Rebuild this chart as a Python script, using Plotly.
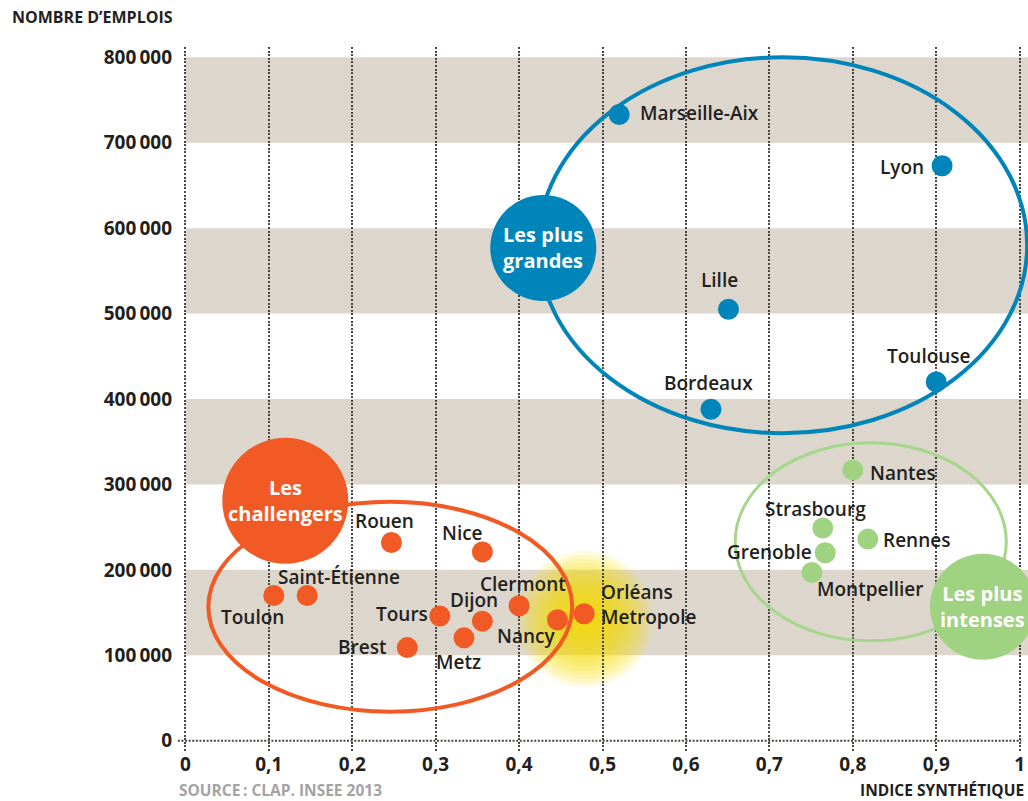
import plotly.graph_objects as go

# ---------------- data ----------------
big_names = ["Marseille-Aix", "Lyon", "Lille", "Bordeaux", "Toulouse"]
big_x = [0.520, 0.907, 0.651, 0.630, 0.900]
big_y = [733000, 673000, 505000, 388000, 420000]

intense_names = ["Nantes", "Strasbourg", "Grenoble", "Rennes", "Montpellier"]
intense_x = [0.800, 0.764, 0.767, 0.818, 0.751]
intense_y = [317000, 249000, 220000, 236000, 197000]

chall_names = ["Rouen", "Nice", "Toulon", "Saint-Étienne", "Tours", "Dijon",
               "Metz", "Clermont", "Nancy", "Brest", "Orléans<br>Metropole"]
chall_x = [0.247, 0.356, 0.106, 0.146, 0.305, 0.356, 0.334, 0.400, 0.446, 0.266, 0.478]
chall_y = [232000, 221000, 170000, 170000, 146000, 140000, 120500, 158000, 141600, 109000, 148600]

x_ticks = [0, 0.1, 0.2, 0.3, 0.4, 0.5, 0.6, 0.7, 0.8, 0.9, 1]
x_ticktext = ["0", "0,1", "0,2", "0,3", "0,4", "0,5", "0,6", "0,7", "0,8", "0,9", "1"]
y_ticks = [0, 100000, 200000, 300000, 400000, 500000, 600000, 700000, 800000]
y_ticktext = ["0", "100\u2009000", "200\u2009000", "300\u2009000", "400\u2009000",
              "500\u2009000", "600\u2009000", "700\u2009000", "800\u2009000"]
bands = [(100000, 200000), (300000, 400000), (500000, 600000), (700000, 800000)]

# group ellipses (data extents)
blue_ell = (0.423, 1.009, 360000, 800000)
orange_ell = (0.0276, 0.4637, 34000, 279600)
green_ell = (0.659, 0.984, 117000, 348700)

# ---------------- styles ----------------
ORANGE = "#f15a24"
BLUE = "#0085ba"
GREEN = "#9fd281"
GREEN_LINE = "#a5d68c"
BAND = "#ddd6cc"
TXT = "#231f20"
GRID = "#4a4540"
FONT = "Open Sans"
DOT = "2px,1.6px"

# label placement: (xanchor, xshift, yshift)
label_pos = {
    "Marseille-Aix": ("left", 19, 2),
    "Lyon": ("right", -16, -1),
    "Lille": ("center", -9, 29),
    "Bordeaux": ("center", -2, 26),
    "Toulouse": ("center", -7, 26),
    "Nantes": ("left", 15, -3),
    "Strasbourg": ("center", -7, 19),
    "Grenoble": ("right", -11, 1),
    "Rennes": ("left", 13, -1),
    "Montpellier": ("left", 3, -17),
    "Rouen": ("center", -7, 22),
    "Nice": ("center", -20, 19),
    "Toulon": ("center", -21, -21),
    "Saint-Étienne": ("center", 32, 19),
    "Tours": ("right", -10, 2),
    "Dijon": ("center", -8, 21),
    "Metz": ("center", -6, -24),
    "Clermont": ("center", 4, 22),
    "Nancy": ("center", -31, -16),
    "Brest": ("right", -19, 1),
    "Orléans<br>Metropole": ("left", 15, 9),
}

fig = go.Figure()

groups = [
    (big_names, big_x, big_y, BLUE),
    (intense_names, intense_x, intense_y, GREEN),
    (chall_names, chall_x, chall_y, ORANGE),
]
for names, xs, ys, col in groups:
    fig.add_trace(go.Scatter(
        x=xs, y=ys, mode="markers",
        marker=dict(size=21, color=col, line=dict(width=0)),
        hoverinfo="skip", showlegend=False, cliponaxis=False,
    ))

shapes = []
# background bands
for y0, y1 in bands:
    shapes.append(dict(type="rect", xref="x", yref="y", x0=0, x1=1.02, y0=y0, y1=y1,
                       fillcolor=BAND, line=dict(width=0), layer="below"))

# yellow glow around Orléans Metropole
gi = chall_names.index("Orléans<br>Metropole")
gx, gy = chall_x[gi] + 0.001, chall_y[gi] - 6000
n_glow = 17
for i in range(n_glow):
    r = 68 - i * 4
    shapes.append(dict(type="circle", xref="x", yref="y", xsizemode="pixel", ysizemode="pixel",
                       xanchor=gx, yanchor=gy, x0=-r, x1=r, y0=-r, y1=r,
                       fillcolor="rgba(246,222,0,0.12)", line=dict(width=0), layer="below"))

# x-axis baseline (dotted)
shapes.append(dict(type="line", xref="x", yref="y", x0=-0.009, x1=1.002, y0=0, y1=0,
                   line=dict(color=GRID, width=2, dash=DOT), layer="between"))

# group ellipses
for (x0, x1, y0, y1), col, w in [(blue_ell, BLUE, 4), (orange_ell, ORANGE, 4), (green_ell, GREEN_LINE, 3)]:
    shapes.append(dict(type="circle", xref="x", yref="y", x0=x0, x1=x1, y0=y0, y1=y1,
                       line=dict(color=col, width=w), fillcolor="rgba(0,0,0,0)", layer="between"))

# group label discs
discs = [
    (0.429, 576800, 53, BLUE, "Les plus<br>grandes"),
    (0.1198, 280800, 63, ORANGE, "Les<br>challengers"),
    (0.956, 156800, 53, GREEN, "Les plus<br>intenses"),
]
annotations = []
for cx, cy, r, col, txt in discs:
    shapes.append(dict(type="circle", xref="x", yref="y", xsizemode="pixel", ysizemode="pixel",
                       xanchor=cx, yanchor=cy, x0=-r, x1=r, y0=-r, y1=r,
                       fillcolor=col, line=dict(width=0), layer="above"))
    annotations.append(dict(x=cx, y=cy, xref="x", yref="y", text=txt, showarrow=False,
                            font=dict(family=FONT, size=20, color="white", weight=700),
                            xanchor="center", yanchor="middle"))

# point labels
for names, xs, ys, col in groups:
    for n, x, y in zip(names, xs, ys):
        anc, dx, dy = label_pos[n]
        annotations.append(dict(x=x, y=y, xref="x", yref="y", text=n, showarrow=False,
                                xanchor=anc, yanchor="middle", xshift=dx, yshift=dy,
                                align="left",
                                font=dict(family=FONT, size=19, color=TXT, weight=600)))

# axis titles & source
annotations.append(dict(x=0, y=1, xref="paper", yref="paper", text="NOMBRE D’EMPLOIS",
                        showarrow=False, xanchor="left", yanchor="middle", xshift=-167, yshift=30,
                        font=dict(family=FONT, size=16, color=TXT, weight=700)))
annotations.append(dict(x=1, y=0, xref="paper", yref="paper", text="INDICE SYNTHÉTIQUE",
                        showarrow=False, xanchor="right", yanchor="middle", xshift=-3, yshift=-39,
                        borderpad=0,
                        font=dict(family=FONT, size=15.5, color=TXT, weight=700)))
annotations.append(dict(x=0, y=0, xref="paper", yref="paper", text="SOURCE\u2009: CLAP. INSEE 2013",
                        showarrow=False, xanchor="left", yanchor="middle", xshift=1, yshift=-39,
                        borderpad=0,
                        font=dict(family=FONT, size=15.5, color="#a3a3a3", weight=700)))

fig.update_layout(
    width=1028, height=801,
    margin=dict(l=177, r=0, t=47, b=50),
    paper_bgcolor="white", plot_bgcolor="white",
    shapes=shapes, annotations=annotations,
    xaxis=dict(range=[-0.01, 1.01], tickvals=x_ticks, ticktext=x_ticktext,
               showgrid=True, gridcolor=GRID, gridwidth=2, griddash=DOT,
               zeroline=False, showline=False, ticks="",
               tickfont=dict(family=FONT, size=19, color=TXT, weight=700)),
    yaxis=dict(range=[-12000, 812000], tickvals=y_ticks, ticktext=y_ticktext,
               showgrid=False, zeroline=False, showline=False, ticks="",
               ticklabelstandoff=4,
               tickfont=dict(family=FONT, size=19, color=TXT, weight=700)),
)

# remove the default page margin so the 1028x801 figure fills the window exactly
fig.write_html("out.html",
               config={"displayModeBar": False},
               post_script="document.body.style.margin='0';document.body.style.overflow='hidden';")
